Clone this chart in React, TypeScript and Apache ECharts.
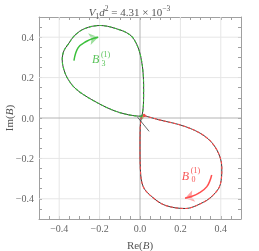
import React, { useEffect, useRef } from "react";
import * as echarts from "echarts";

const greenLoop: [number, number][] = [
  [0.008, 0.008], [-0.058, 0.016], [-0.14, 0.041], [-0.239, 0.091], [-0.314, 0.141],
  [-0.355, 0.19], [-0.377, 0.24], [-0.385, 0.29], [-0.377, 0.332], [-0.355, 0.366],
  [-0.322, 0.41], [-0.273, 0.443], [-0.198, 0.458], [-0.124, 0.444], [-0.05, 0.412],
  [-0.016, 0.364], [0.005, 0.298], [0.016, 0.215], [0.018, 0.141], [0.017, 0.066],
  [0.011, 0.016], [0.008, 0.008],
];
const redLoop: [number, number][] = [
  [0.02, 0.012], [0.091, -0.008], [0.223, -0.042], [0.322, -0.091], [0.38, -0.157],
  [0.405, -0.245], [0.397, -0.331], [0.363, -0.381], [0.314, -0.417], [0.223, -0.448],
  [0.124, -0.432], [0.058, -0.389], [0.016, -0.34], [0.002, -0.257], [0.0, -0.15],
  [0.001, -0.05], [0.006, 0.004],
];
const greenArrow: [number, number][] = [
  [-0.327, 0.284], [-0.306, 0.348], [-0.264, 0.38], [-0.23, 0.395], [-0.207, 0.4],
];
const redArrow: [number, number][] = [
  [0.355, -0.282], [0.331, -0.34], [0.289, -0.373], [0.25, -0.39], [0.223, -0.397],
];
const originDots = [
  { value: [0.007, 0.008], color: "#3355dd" },
  { value: [0.012, 0.004], color: "#e8a020" },
  { value: [0.008, 0.0], color: "#44aa44" },
  { value: [0.02, 0.013], color: "#ee2222" },
];
const originSegment: [number, number][] = [[-0.012, 0.004], [0.045, -0.066]];
const gridTicks = [-0.4, -0.2, 0.2, 0.4];
const greenLabelPos: [number, number] = [-0.2, 0.29];
const redLabelPos: [number, number] = [0.245, -0.287];
const greenLabel = { base: "B", sub: "3", sup: "(1)" };
const redLabel = { base: "B", sub: "0", sup: "(1)" };

const SERIF = "'Liberation Serif', 'DejaVu Serif', serif";
const GREEN = "#3cc03c";
const RED = "#ff5050";

function fmt(v: number) {
  const k = v * 5;
  if (Math.abs(k - Math.round(k)) > 1e-6) return "";
  const s = Math.abs(v).toFixed(1);
  return v < -1e-9 ? "\u2212" + s : s;
}

function frameAxis(pos: string, isX: boolean, labels: boolean) {
  return {
    type: "value",
    position: pos,
    min: -0.5,
    max: 0.5,
    interval: 0.05,
    axisLine: { show: true, onZero: false, lineStyle: { color: "#a0a0a0", width: 1 } },
    axisTick: { show: true, inside: true, length: 3, lineStyle: { color: "#a0a0a0" } },
    splitLine: { show: false },
    axisLabel: {
      show: labels,
      formatter: fmt,
      color: "#666",
      fontFamily: SERIF,
      fontSize: 10,
      margin: isX ? 4 : 5,
      showMinLabel: true,
      showMaxLabel: true,
      hideOverlap: false,
    },
  };
}

function labelItems(pos: [number, number], lab: { base: string; sub: string; sup: string }, color: string) {
  const mk = (text: string, size: number, offset: [number, number], italic: boolean) => ({
    value: pos,
    label: {
      show: true,
      position: "inside",
      formatter: text,
      color,
      fontFamily: SERIF,
      fontStyle: italic ? "italic" : "normal",
      fontSize: size,
      offset,
    },
  });
  return [
    mk(lab.base, 12, [-4, 0], true),
    mk(lab.sup, 8, [6, -5], false),
    mk(lab.sub, 8, [4, 4], false),
  ];
}

export default function App() {
  const ref = useRef<HTMLDivElement>(null);
  useEffect(() => {
    if (!ref.current) return;
    const chart = echarts.init(ref.current, undefined, { renderer: "svg" });
    const gridSeries: any[] = [];
    gridTicks.forEach((t) => {
      gridSeries.push({
        type: "line", data: [[t, -0.5], [t, 0.5]], symbol: "none", silent: true,
        lineStyle: { color: "#e6e6e6", width: 1 },
      });
      gridSeries.push({
        type: "line", data: [[-0.5, t], [0.5, t]], symbol: "none", silent: true,
        lineStyle: { color: "#e6e6e6", width: 1 },
      });
    });
    gridSeries.push({
      type: "line", data: [[0, -0.5], [0, 0.5]], symbol: "none", silent: true,
      lineStyle: { color: "#b4b4b4", width: 1 },
    });
    gridSeries.push({
      type: "line", data: [[-0.5, 0], [0.5, 0]], symbol: "none", silent: true,
      lineStyle: { color: "#b4b4b4", width: 1 },
    });

    const loop = (data: [number, number][], color: string) => [
      { type: "line", data, symbol: "none", smooth: 0.35, lineStyle: { color: "#222", width: 0.9 } },
      { type: "line", data, symbol: "none", smooth: 0.35, lineStyle: { color, width: 1.1, type: [3, 2] } },
    ];
    const arrow = (data: [number, number][], color: string) => [
      { type: "line", data, symbol: "none", smooth: 0.4, lineStyle: { color, width: 1.5 } },
      {
        type: "lines", coordinateSystem: "cartesian2d",
        data: [{ coords: [data[data.length - 2], data[data.length - 1]] }],
        symbol: ["none", "arrow"], symbolSize: [7, 9],
        lineStyle: { color, width: 1.5, curveness: 0 },
      },
    ];
    const txt = (extra: any) => ({ fontFamily: SERIF, color: "#555", fontWeight: "normal", lineHeight: 16, ...extra });
    const nameRich = {
      rich: {
        n: { fontFamily: SERIF, fontSize: 11, color: "#555" },
        i: { fontFamily: SERIF, fontSize: 11, color: "#555", fontStyle: "italic" },
      },
    };

    chart.setOption({
      animation: false,
      title: {
        left: "center",
        top: -1,
        text: "{i|V}{sb|1}{i|d}{sp|2}{n| = 4.31 × 10}{sp|\u22123}",
        textStyle: {
          fontWeight: "normal",
          rich: {
            i: txt({ fontStyle: "italic", fontSize: 11, verticalAlign: "middle" }),
            n: txt({ fontSize: 11, verticalAlign: "middle" }),
            sb: txt({ fontSize: 7.5, verticalAlign: "bottom" }),
            sp: txt({ fontSize: 7.5, verticalAlign: "top" }),
          },
        },
      },
      grid: { left: 39, right: 18, top: 17, bottom: 32, containLabel: false, outerBoundsMode: "none" },
      xAxis: [
        {
          ...frameAxis("bottom", true, true),
          name: "{n|Re(}{i|B}{n|)}",
          nameLocation: "middle",
          nameGap: 20,
          nameMoveOverlap: false,
          nameTextStyle: nameRich,
        },
        frameAxis("top", true, false),
      ],
      yAxis: [
        {
          ...frameAxis("left", false, true),
          name: "{n|Im(}{i|B}{n|)}",
          nameLocation: "middle",
          nameGap: 25,
          nameRotate: 90,
          nameMoveOverlap: false,
          nameTextStyle: nameRich,
        },
        frameAxis("right", false, false),
      ],
      series: [
        ...gridSeries,
        ...loop(greenLoop, GREEN),
        ...loop(redLoop, RED),
        { type: "line", data: originSegment, symbol: "none", lineStyle: { color: "#444", width: 0.8 } },
        {
          type: "scatter", symbolSize: 3,
          data: originDots.map((d) => ({ value: d.value, itemStyle: { color: d.color } })),
        },
        ...arrow(greenArrow, GREEN),
        ...arrow(redArrow, RED),
        { type: "scatter", symbolSize: 0, data: labelItems(greenLabelPos, greenLabel, "#2fb42f") },
        { type: "scatter", symbolSize: 0, data: labelItems(redLabelPos, redLabel, "#f52a2a") },
      ],
    });
    return () => chart.dispose();
  }, []);
  return <div ref={ref} style={{ position: "fixed", left: 0, top: 0, width: 259, height: 251 }} />;
}
